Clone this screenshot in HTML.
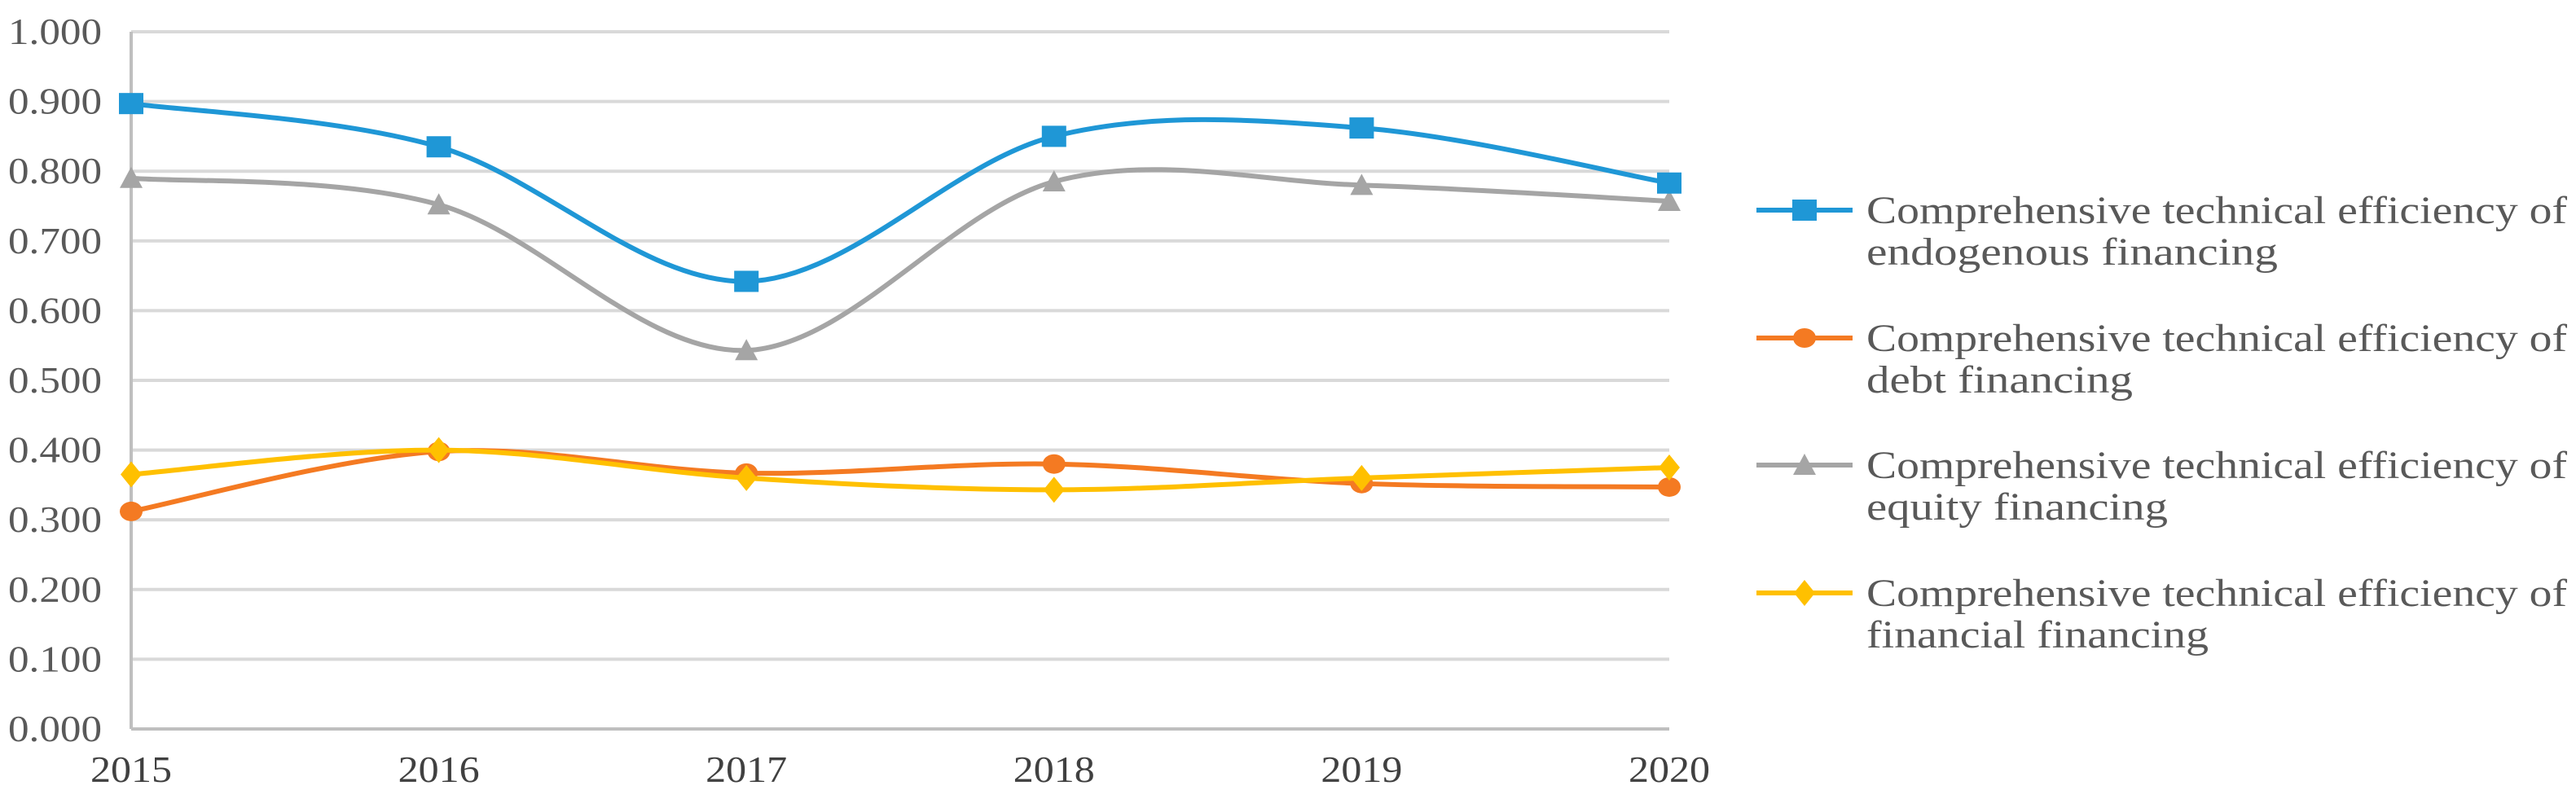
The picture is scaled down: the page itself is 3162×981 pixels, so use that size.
<!DOCTYPE html>
<html><head><meta charset="utf-8"><style>
html,body{margin:0;padding:0;background:#fff;}
svg{display:block;font-family:"Liberation Serif",serif;}
</style></head><body>
<svg id="chart" width="3162" height="981" viewBox="0 0 3162 981" xmlns="http://www.w3.org/2000/svg">
<g id="grid"></g>
<g id="yticks"></g>
<g id="xticks"></g>
<g id="series"></g>
<g id="legend"></g>
</svg>
<script>
const categories = ["2015","2016","2017","2018","2019","2020"];
const endogenous = [0.897,0.835,0.642,0.850,0.862,0.783];
const debt = [0.312,0.398,0.367,0.380,0.352,0.347];
const equity = [0.790,0.752,0.543,0.785,0.780,0.757];
const financial = [0.365,0.400,0.360,0.343,0.360,0.375];
const yTicks = [0,0.1,0.2,0.3,0.4,0.5,0.6,0.7,0.8,0.9,1.0];
const legendLine1 = "Comprehensive technical efficiency of";
const legendLine2 = ["endogenous financing","debt financing","equity financing","financial financing"];

const NS="http://www.w3.org/2000/svg";
const X0=161,X1=2049,Y0=895,Y1=39;
const xs=i=>X0+(X1-X0)*i/(categories.length-1);
const ys=v=>Y0-(Y0-Y1)*v/1.0;
function mk(tag,attrs,parent){const e=document.createElementNS(NS,tag);for(const k in attrs)e.setAttribute(k,attrs[k]);parent.appendChild(e);return e;}
const grid=document.getElementById('grid'),yt=document.getElementById('yticks'),xt=document.getElementById('xticks'),ser=document.getElementById('series'),leg=document.getElementById('legend');
yTicks.forEach(v=>{
  const l=mk('line',{x1:X0,x2:X1,y1:ys(v),y2:ys(v),stroke:v===0?'#bfbfbf':'#d9d9d9','stroke-width':4},grid);
  
  
  const t=mk('text',{x:125,y:ys(v)+15,'text-anchor':'end','font-size':45,fill:'#595959',textLength:115,lengthAdjust:'spacingAndGlyphs'},yt);
  t.textContent=v.toFixed(3);
  
  
});
const ax=mk('line',{x1:X0,x2:X0,y1:Y1,y2:Y0,stroke:'#bfbfbf','stroke-width':4},grid);


categories.forEach((c,i)=>{
  const t=mk('text',{x:xs(i),y:960,'text-anchor':'middle','font-size':45,fill:'#404040',textLength:100,lengthAdjust:'spacingAndGlyphs'},xt);
  t.textContent=c;
  
  
});
function smooth(vals){
  const p=vals.map((v,i)=>[xs(i),ys(v)]);
  let d=`M${p[0][0]},${p[0][1]}`;
  for(let i=0;i<p.length-1;i++){
    const p0=p[i-1]||p[i],p1=p[i],p2=p[i+1],p3=p[i+2]||p[i+1];
    const c1=[p1[0]+(p2[0]-p0[0])/6,p1[1]+(p2[1]-p0[1])/6];
    const c2=[p2[0]-(p3[0]-p1[0])/6,p2[1]-(p3[1]-p1[1])/6];
    d+=` C${c1[0]},${c1[1]} ${c2[0]},${c2[1]} ${p2[0]},${p2[1]}`;
  }
  return d;
}
function marker(type,x,y,color,g){
  let e;
  if(type==='square') e=mk('rect',{x:x-15,y:y-13,width:30,height:26,fill:color},g);
  else if(type==='circle') e=mk('ellipse',{cx:x,cy:y,rx:14,ry:12,fill:color},g);
  else if(type==='triangle') e=mk('polygon',{points:`${x},${y-14} ${x+14},${y+12} ${x-14},${y+12}`,fill:color},g);
  else e=mk('polygon',{points:`${x},${y-16} ${x+13},${y} ${x},${y+16} ${x-13},${y}`,fill:color},g);
  return e;
}
const seriesDefs=[
  {vals:endogenous,color:'#1f97d6',m:'square',name:'endogenous'},
  {vals:debt,color:'#f47a22',m:'circle',name:'debt'},
  {vals:equity,color:'#a5a5a5',m:'triangle',name:'equity'},
  {vals:financial,color:'#ffc000',m:'diamond',name:'financial'}
];
const drawOrder=[2,0,1,3];
drawOrder.forEach(si=>{
  const s=seriesDefs[si];
  const g=mk('g',{},ser);
  
  
  const path=mk('path',{d:smooth(s.vals),fill:'none',stroke:s.color,'stroke-width':6,'stroke-linecap':'round'},g);
  
  
  s.vals.forEach((v,i)=>{
    const e=marker(s.m,xs(i),ys(v),s.color,g);
    
    
  });
});
const legY=[258,415,571,728];
const l2w=[505,327,370,420];
seriesDefs.forEach((s,i)=>{
  const g=mk('g',{},leg);
  
  
  mk('line',{x1:2156,x2:2274,y1:legY[i],y2:legY[i],stroke:s.color,'stroke-width':6},g);
  marker(s.m,2215,legY[i],s.color,g);
  const t1=mk('text',{x:2291,y:legY[i]+16,'font-size':48,fill:'#595959',textLength:860,lengthAdjust:'spacingAndGlyphs'},g);
  t1.textContent=legendLine1;
  
  
  const t2=mk('text',{x:2291,y:legY[i]+67,'font-size':48,fill:'#595959',textLength:l2w[i],lengthAdjust:'spacingAndGlyphs'},g);
  t2.textContent=legendLine2[i];
  
  
});
</script>
</body></html>
